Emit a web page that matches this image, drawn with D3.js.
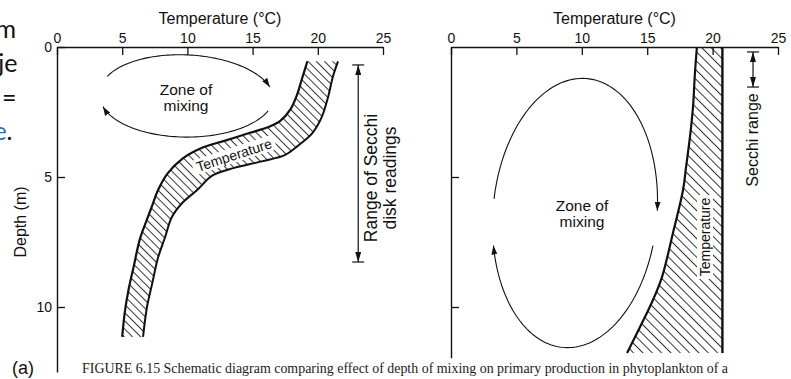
<!DOCTYPE html>
<html>
<head>
<meta charset="utf-8">
<script src="https://cdn.jsdelivr.net/npm/d3@7"></script>
<style>
  html, body { margin: 0; padding: 0; background: #fff; }
  svg { display: block; }
</style>
</head>
<body>
<svg id="chart" width="791" height="379"></svg>
<script>
// ---- axis ticks -------------------------------------------------------
const tempTicks = [0, 5, 10, 15, 20, 25];
const depthTicksA = [0, 5, 10];
const depthTicksB = [5, 10];
const tempDomain = [0, 25];
const depthAxisEndA = 12.5;   // m, bottom of panel (a) depth axis
const depthAxisEndB = 11.95;  // m, bottom of panel (b) depth axis

// ---- panel (a): S-shaped temperature band (°C, m) ---------------------
const bandACoolTemp  = [19.2, 18.8, 18.4, 17.9, 17.1, 16.1, 14.8, 12.9, 11.0, 9.6, 8.5, 7.75, 7.3, 6.85, 6.35, 5.9, 5.5, 5.2, 5.0];
const bandACoolDepth = [0.55, 1.2, 1.85, 2.4, 2.85, 3.1, 3.3, 3.6, 3.9, 4.3, 4.85, 5.5, 6.1, 6.7, 7.4, 8.4, 9.3, 10.2, 11.15];
const bandAWarmTemp  = [21.55, 21.15, 20.8, 20.3, 19.6, 18.6, 17.5, 15.7, 13.6, 11.9, 10.75, 9.6, 8.8, 8.3, 7.75, 7.3, 6.9, 6.6];
const bandAWarmDepth = [0.55, 1.15, 1.9, 2.7, 3.3, 3.75, 4.15, 4.4, 4.65, 4.95, 5.5, 6.0, 6.55, 7.3, 8.1, 9.1, 10.0, 11.15];

// ---- panel (b): nearly isothermal band (°C, m) ------------------------
const bandBCoolTemp  = [18.8, 18.65, 18.5, 18.27, 17.97, 17.74, 16.97, 16.13, 15.44, 14.45, 13.46];
const bandBCoolDepth = [0, 1.0, 2.31, 3.46, 4.62, 5.5, 7.15, 8.85, 9.73, 10.77, 11.77];
const bandBWarmTemp  = [20.75, 20.75];
const bandBWarmDepth = [0, 11.77];

// ---- Secchi disk ranges: [temperature position, top depth, bottom depth]
const secchiA = [23.1, 0.69, 8.27];
const secchiB = [23.09, 0.19, 1.54];

// ---- mixing loops: centre (°C, m), radii (°C, m), tilt, sweep (deg) ---
const mixingLoopsA = [
  { t: 9.97, d: 1.885, rt: 6.67, rd: 1.58, tilt: 3, from: -158, to: -19 },
  { t: 9.97, d: 1.885, rt: 6.67, rd: 1.58, tilt: 0, from: 21, to: 165 }
];
const mixingLoopsB = [
  { t: 9.48, d: 6.385, rt: 6.27, rd: 5.19, tilt: 5, from: 183, to: 356 },
  { t: 9.48, d: 6.385, rt: 6.27, rd: 5.19, tilt: 5, from: 11, to: 163 }
];

// ---- text --------------------------------------------------------------
const axisTitleTemp = "Temperature (°C)";
const axisTitleDepth = "Depth (m)";
const bandLabel = "Temperature";
const zoneLabel = ["Zone of", "mixing"];
const secchiLabelA = ["Range of Secchi", "disk readings"];
const secchiLabelB = "Secchi range";
const panelTag = "(a)";
const caption = "FIGURE 6.15  Schematic diagram comparing effect of depth of mixing on primary production in phytoplankton of a";
const slideFragments = ["m", "je", "="];

const SANS = "'Liberation Sans', Arial, Helvetica, sans-serif";
const SERIF = "'Liberation Serif', 'Times New Roman', serif";
const SLIDE = "Lato, 'Open Sans', sans-serif";

// ---------------------------------------------------------------------------
const svg = d3.select("#chart");
const defs = svg.append("defs");

// hatch patterns ("\" lines)
function hatch(id, gap) {
  const p = defs.append("pattern")
    .attr("id", id).attr("patternUnits", "userSpaceOnUse")
    .attr("width", gap).attr("height", gap)
    .attr("patternTransform", "rotate(-45)");
  p.append("line").attr("x1", 0.5).attr("y1", 0).attr("x2", 0.5).attr("y2", gap)
    .attr("stroke", "#333").attr("stroke-width", 1);
}
hatch("hatchA", 5.8);
hatch("hatchB", 6.6);

// arrowheads
function arrow(id, len, wid) {
  defs.append("marker")
    .attr("id", id).attr("viewBox", "0 0 10 10")
    .attr("refX", 10).attr("refY", 5)
    .attr("markerUnits", "userSpaceOnUse")
    .attr("markerWidth", len).attr("markerHeight", wid)
    .attr("preserveAspectRatio", "none")
    .attr("orient", "auto-start-reverse")
    .append("path").attr("d", "M0,0L10,5L0,10Z").attr("fill", "#111");
}
arrow("loopHead", 9, 6);
arrow("secchiHead", 10, 6);

function label(g, txt, size, family) {
  return g.append("text").style("font-family", family || SANS)
    .style("font-size", size + "px").style("fill", "#111").text(txt);
}

// scales
const xA = d3.scaleLinear().domain(tempDomain).range([57, 383]);
const yA = d3.scaleLinear().domain([0, depthAxisEndA]).range([47, 47 + 26 * depthAxisEndA]);
const xB = d3.scaleLinear().domain(tempDomain).range([451, 778]);
const yB = d3.scaleLinear().domain([0, depthAxisEndB]).range([47, 47 + 26 * depthAxisEndB]);

const zip = (ts, ds) => ts.map((t, i) => [t, ds[i]]);

function bandPaths(x, y, cool, warm, curve) {
  const line = d3.line().x(p => x(p[0])).y(p => y(p[1])).curve(curve);
  const coolD = line(cool);
  const warmD = line(warm);
  const warmRev = line(warm.slice().reverse());
  return { coolD, warmD, area: coolD + "L" + warmRev.slice(1) + "Z" };
}

function loopPath(x, y, a) {
  const cx = x(a.t), cy = y(a.d);
  const rx = x(a.t + a.rt) - cx, ry = y(a.d + a.rd) - cy;
  const phi = a.tilt * Math.PI / 180;
  const pts = d3.range(0, 81).map(i => {
    const th = (a.from + (a.to - a.from) * i / 80) * Math.PI / 180;
    const ex = rx * Math.cos(th), ey = ry * Math.sin(th);
    return [cx + ex * Math.cos(phi) - ey * Math.sin(phi),
            cy + ex * Math.sin(phi) + ey * Math.cos(phi)];
  });
  return d3.line()(pts);
}

function drawSecchi(g, x, y, s) {
  const sx = x(s[0]), y0 = y(s[1]), y1 = y(s[2]);
  g.append("line").attr("x1", sx).attr("x2", sx).attr("y1", y0).attr("y2", y1)
    .attr("stroke", "#111").attr("stroke-width", 1.2)
    .attr("marker-start", "url(#secchiHead)").attr("marker-end", "url(#secchiHead)");
  [y0, y1].forEach(v => g.append("line")
    .attr("x1", sx - 6).attr("x2", sx + 6).attr("y1", v).attr("y2", v)
    .attr("stroke", "#111").attr("stroke-width", 1.2));
}

function drawAxes(g, x, y, depthTicks, showDepthLabels) {
  const top = g.append("g").attr("transform", `translate(0,${y(0)})`)
    .call(d3.axisTop(x).tickValues(tempTicks).tickSizeInner(-8).tickSizeOuter(0).tickPadding(4));
  const left = g.append("g").attr("transform", `translate(${x(0)},0)`)
    .call(d3.axisLeft(y).tickValues(depthTicks).tickSizeInner(-8).tickSizeOuter(0).tickPadding(5)
      .tickFormat(showDepthLabels ? d3.format("d") : () => ""));
  [top, left].forEach(a => {
    a.selectAll("path.domain").attr("stroke", "#111").attr("stroke-width", 1.4);
    a.selectAll(".tick line").attr("stroke", "#111").attr("stroke-width", 1.3);
    a.selectAll("text").style("font-size", "14px").style("fill", "#111").style("font-family", SANS);
  });
  label(g, axisTitleTemp, 16).attr("x", (x(0) + x(25)) / 2).attr("y", 24).attr("text-anchor", "middle");
}

// ======================= panel (a) =======================
const gA = svg.append("g");
const bA = bandPaths(xA, yA, zip(bandACoolTemp, bandACoolDepth), zip(bandAWarmTemp, bandAWarmDepth), d3.curveCatmullRom);
gA.append("path").attr("d", bA.area).attr("fill", "url(#hatchA)");

// label inside the band, on a white ground
const labA = gA.append("g").attr("transform", "translate(234,155) rotate(-18)");
labA.append("rect").attr("x", -43).attr("y", -7.5).attr("width", 86).attr("height", 15).attr("fill", "#fff");
label(labA, bandLabel, 14).attr("text-anchor", "middle").attr("dy", "0.36em");

gA.append("path").attr("d", bA.coolD).attr("fill", "none").attr("stroke", "#111").attr("stroke-width", 2.2);
gA.append("path").attr("d", bA.warmD).attr("fill", "none").attr("stroke", "#111").attr("stroke-width", 2);

mixingLoopsA.forEach(a => gA.append("path").attr("d", loopPath(xA, yA, a))
  .attr("fill", "none").attr("stroke", "#111").attr("stroke-width", 1.1)
  .attr("marker-end", "url(#loopHead)"));

label(gA, zoneLabel[0], 15.5).attr("x", 186).attr("y", 95).attr("text-anchor", "middle");
label(gA, zoneLabel[1], 15.5).attr("x", 186).attr("y", 111).attr("text-anchor", "middle");

drawSecchi(gA, xA, yA, secchiA);
secchiLabelA.forEach((s, i) => label(gA, s, 17.5)
  .attr("transform", `translate(${377 + i * 19},178) rotate(-90)`)
  .attr("text-anchor", "middle"));

drawAxes(gA, xA, yA, depthTicksA, true);
label(gA, axisTitleDepth, 16).attr("transform", "translate(26,222) rotate(-90)").attr("text-anchor", "middle");

// ======================= panel (b) =======================
const gB = svg.append("g");
const bB = bandPaths(xB, yB, zip(bandBCoolTemp, bandBCoolDepth), zip(bandBWarmTemp, bandBWarmDepth), d3.curveCatmullRom);
gB.append("path").attr("d", bB.area).attr("fill", "url(#hatchB)");

const labB = gB.append("g").attr("transform", "translate(705,237) rotate(-90)");
labB.append("rect").attr("x", -42).attr("y", -8).attr("width", 84).attr("height", 16).attr("fill", "#fff");
label(labB, bandLabel, 14).attr("text-anchor", "middle").attr("dy", "0.36em");

gB.append("path").attr("d", bB.coolD).attr("fill", "none").attr("stroke", "#111").attr("stroke-width", 2.2);
gB.append("path").attr("d", bB.warmD).attr("fill", "none").attr("stroke", "#111").attr("stroke-width", 2.4);

mixingLoopsB.forEach(a => gB.append("path").attr("d", loopPath(xB, yB, a))
  .attr("fill", "none").attr("stroke", "#111").attr("stroke-width", 1.1)
  .attr("marker-end", "url(#loopHead)"));

label(gB, zoneLabel[0], 15.5).attr("x", 582).attr("y", 211).attr("text-anchor", "middle");
label(gB, zoneLabel[1], 15.5).attr("x", 582).attr("y", 227).attr("text-anchor", "middle");

drawSecchi(gB, xB, yB, secchiB);
label(gB, secchiLabelB, 16).attr("transform", "translate(758,140) rotate(-90)").attr("text-anchor", "middle");

drawAxes(gB, xB, yB, depthTicksB, false);

// ======================= surrounding text =======================
label(svg, panelTag, 18).attr("x", 12).attr("y", 374);
label(svg, caption, 15, SERIF).attr("x", 82).attr("y", 373)
  .style("fill", "#222")
  .attr("textLength", 646).attr("lengthAdjust", "spacingAndGlyphs");

[[38, 16], [72, 17.5], [107, 16.5]].forEach((p, i) =>
  label(svg, slideFragments[i], 25, SLIDE).attr("x", p[1]).attr("y", p[0]).attr("text-anchor", "end"));
const eDot = label(svg, "", 25, SLIDE).attr("x", 12.5).attr("y", 140).attr("text-anchor", "end");
eDot.append("tspan").style("fill", "#1b75cf").text("e");
eDot.append("tspan").style("fill", "#111").text(".");
</script>
</body>
</html>
